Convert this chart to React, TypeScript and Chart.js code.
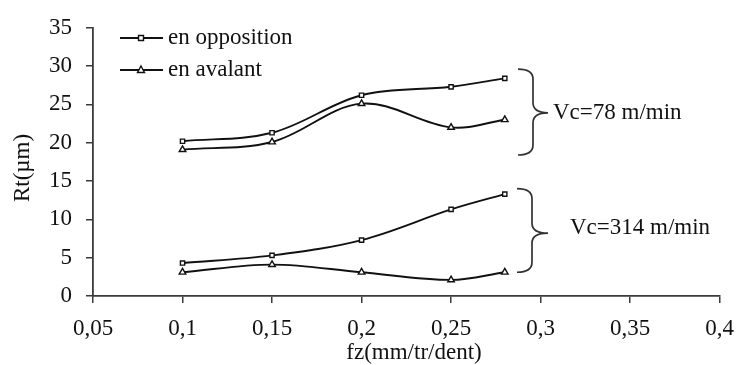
import React, { useEffect, useRef } from "react";
import { Chart, registerables } from "chart.js";

Chart.register(...registerables);

// ---- data ----
const fz = [0.1, 0.15, 0.2, 0.25, 0.28];
const opposition78 = [20.2, 21.3, 26.2, 27.3, 28.4];
const avalant78 = [19.1, 20.1, 25.1, 22.0, 23.0];
const opposition314 = [4.3, 5.3, 7.3, 11.3, 13.3];
const avalant314 = [3.1, 4.1, 3.1, 2.1, 3.1];

const seriesNames = ["en opposition", "en avalant"];
const groupLabels = ["Vc=78 m/min", "Vc=314 m/min"];
// brace extents in data units: [bottom, top, tip]
const braceRanges = [
  [18.4, 29.6, 23.9],
  [3.1, 14.0, 8.2],
];

const xTitle = "fz(mm/tr/dent)";
const yTitle = "Rt(µm)";

const FONT = "'Liberation Serif', 'Times New Roman', serif";
const INK = "#111";
const AXIS = "#3a3a3a";

const toPts = (ys: number[]) => fz.map((x, i) => ({ x, y: ys[i] }));

const overlayPlugin = {
  id: "overlay",
  afterDatasetsDraw(chart: any) {
    const { ctx, scales } = chart;
    const ys = scales.y;
    ctx.save();
    // braces
    const braceX = [
      { x0: 518, xm: 533, xt: 548, textX: 553 },
      { x0: 517, xm: 532, xt: 548, textX: 570 },
    ];
    ctx.strokeStyle = "#333";
    ctx.lineWidth = 1.7;
    braceRanges.forEach((r, i) => {
      const b = braceX[i];
      const yTop = ys.getPixelForValue(r[1]);
      const yBot = ys.getPixelForValue(r[0]);
      const yMid = ys.getPixelForValue(r[2]);
      const rr = 10;
      ctx.beginPath();
      ctx.moveTo(b.x0, yTop);
      ctx.quadraticCurveTo(b.xm, yTop, b.xm, yTop + rr);
      ctx.lineTo(b.xm, yMid - rr);
      ctx.quadraticCurveTo(b.xm, yMid, b.xt, yMid);
      ctx.quadraticCurveTo(b.xm, yMid, b.xm, yMid + rr);
      ctx.lineTo(b.xm, yBot - rr);
      ctx.quadraticCurveTo(b.xm, yBot, b.x0, yBot);
      ctx.stroke();
      ctx.fillStyle = INK;
      ctx.font = `23px ${FONT}`;
      ctx.textAlign = "left";
      ctx.textBaseline = "middle";
      const ty = i === 0 ? yMid : yMid - 5;
      ctx.fillText(groupLabels[i], b.textX, ty);
    });

    // legend
    const legY = [38, 70];
    const styles = ["rect", "triangle"];
    legY.forEach((ly, i) => {
      ctx.strokeStyle = INK;
      ctx.lineWidth = 1.9;
      ctx.beginPath();
      ctx.moveTo(120, ly);
      ctx.lineTo(163, ly);
      ctx.stroke();
      ctx.lineWidth = 1.4;
      ctx.fillStyle = "#fff";
      if (styles[i] === "rect") {
        ctx.beginPath();
        ctx.rect(138.5, ly - 2.5, 5, 5);
        ctx.fill();
        ctx.stroke();
      } else {
        ctx.beginPath();
        ctx.moveTo(141, ly - 4);
        ctx.lineTo(144.5, ly + 2.5);
        ctx.lineTo(137.5, ly + 2.5);
        ctx.closePath();
        ctx.fill();
        ctx.stroke();
      }
      ctx.fillStyle = INK;
      ctx.font = `23px ${FONT}`;
      ctx.textAlign = "left";
      ctx.textBaseline = "middle";
      ctx.fillText(seriesNames[i], 168, ly);
    });

    // axis titles
    ctx.fillStyle = INK;
    ctx.font = `23px ${FONT}`;
    ctx.textAlign = "center";
    ctx.textBaseline = "middle";
    ctx.fillText(xTitle, 414, 353);
    ctx.translate(23, 168);
    ctx.rotate(-Math.PI / 2);
    ctx.fillText(yTitle, 0, 0);
    ctx.restore();
  },
};

export default function App() {
  const ref = useRef<HTMLCanvasElement | null>(null);
  useEffect(() => {
    if (!ref.current) return;
    const lineStyle = {
      borderColor: INK,
      borderWidth: 1.9,
      pointBackgroundColor: "#fff",
      pointBorderColor: INK,
      pointBorderWidth: 1.4,
      tension: 0.35,
      fill: false,
    };
    const chart = new Chart(ref.current, {
      type: "line",
      data: {
        datasets: [
          { label: seriesNames[0], data: toPts(opposition78), pointStyle: "rect", pointRadius: 3, ...lineStyle },
          { label: seriesNames[1], data: toPts(avalant78), pointStyle: "triangle", pointRadius: 3.8, ...lineStyle },
          { label: seriesNames[0], data: toPts(opposition314), pointStyle: "rect", pointRadius: 3, ...lineStyle },
          { label: seriesNames[1], data: toPts(avalant314), pointStyle: "triangle", pointRadius: 3.8, ...lineStyle },
        ],
      },
      options: {
        animation: false,
        responsive: false,
        maintainAspectRatio: false,
        layout: { padding: { left: 0, top: 23, right: 23, bottom: 0 } },
        plugins: { legend: { display: false }, tooltip: { enabled: false } },
        scales: {
          x: {
            type: "linear",
            min: 0.05,
            max: 0.4,
            afterFit: (s: any) => {
              s.height = 69;
            },
            ticks: {
              stepSize: 0.05,
              color: INK,
              padding: 12,
              font: { family: FONT, size: 23 },
              maxRotation: 0,
              callback: (v: any) => Number(Number(v).toFixed(2)).toString().replace(".", ","),
            },
            grid: { drawOnChartArea: false, drawTicks: true, tickLength: 7, color: AXIS, lineWidth: 1.5 },
            border: { display: true, color: AXIS, width: 1.8 },
            title: { display: false },
          },
          y: {
            min: 0,
            max: 35,
            afterFit: (s: any) => {
              s.width = 93;
            },
            ticks: {
              stepSize: 5,
              color: INK,
              padding: 14,
              font: { family: FONT, size: 23 },
            },
            grid: { drawOnChartArea: false, drawTicks: true, tickLength: 7, color: AXIS, lineWidth: 1.5 },
            border: { display: true, color: AXIS, width: 1.8 },
            title: { display: false },
          },
        },
      },
      plugins: [overlayPlugin],
    });
    return () => chart.destroy();
  }, []);
  return (
    <div style={{ position: "absolute", left: 0, top: 0, width: 746, height: 365, background: "#fff" }}>
      <canvas ref={ref} width={746} height={365} style={{ width: 746, height: 365, display: "block" }} />
    </div>
  );
}
